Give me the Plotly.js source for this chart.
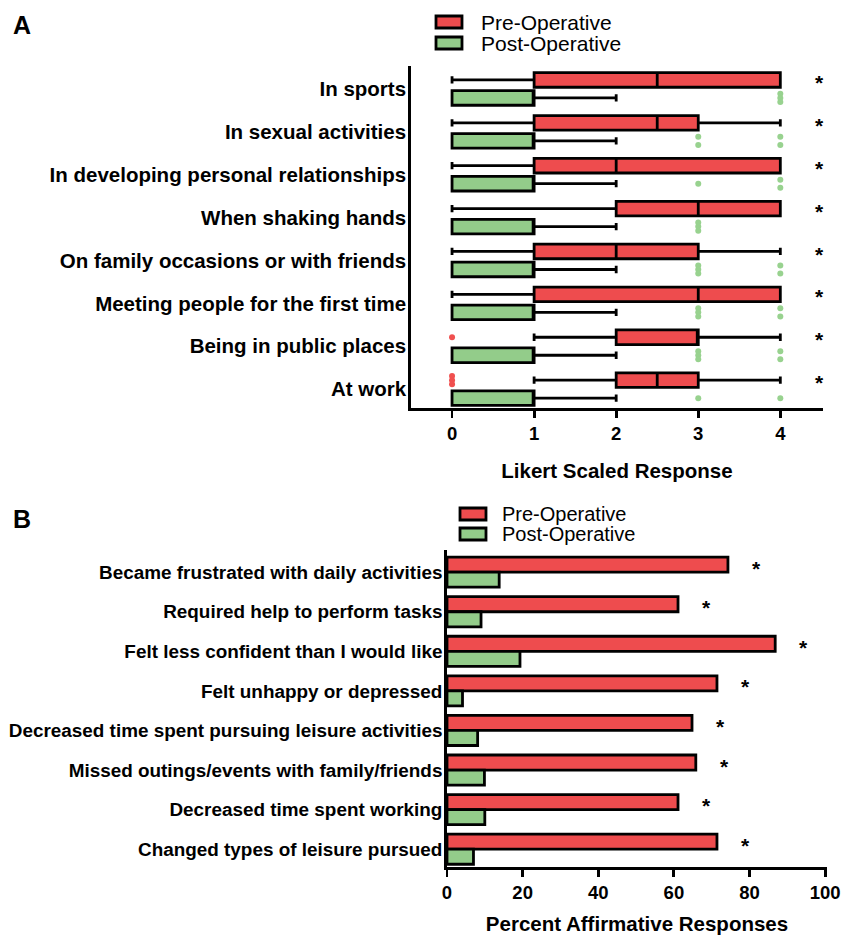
<!DOCTYPE html>
<html>
<head>
<meta charset="utf-8">
<script src="https://cdn.plot.ly/plotly-3.0.1.min.js"></script>
<style>html,body{margin:0;padding:0;background:#fff;}#chart{width:843px;height:936px;}</style>
</head>
<body>
<div id="chart"></div>
<script>
// ---------- Panel A data (Likert 0-4) ----------
const catsA = ["In sports","In sexual activities","In developing personal relationships","When shaking hands","On family occasions or with friends","Meeting people for the first time","Being in public places","At work"];
const preLo  = [0, 0, 0, 0, 0, 0, 1, 1];
const preQ1  = [1, 1, 1, 2, 1, 1, 2, 2];
const preMed = [2.5, 2.5, 2, 3, 2, 3, 3, 2.5];
const preQ3  = [4, 3, 4, 4, 3, 4, 3, 3];
const preHi  = [4, 4, 4, 4, 4, 4, 4, 4];
const preOut = [[], [], [], [], [], [], [0], [0, 0, 0]];
const postLo  = [0, 0, 0, 0, 0, 0, 0, 0];
const postQ1  = [0, 0, 0, 0, 0, 0, 0, 0];
const postMed = [1, 1, 1, 1, 1, 1, 1, 1];
const postQ3  = [1, 1, 1, 1, 1, 1, 1, 1];
const postHi  = [2, 2, 2, 2, 2, 2, 2, 2];
const postOut = [[4, 4, 4], [3, 3, 4, 4], [3, 4, 4], [3, 3, 3], [3, 3, 3, 4, 4], [3, 3, 3, 4, 4], [3, 3, 3, 4, 4], [3, 4]];
const sigA = [true, true, true, true, true, true, true, true];
const ticksA = [0, 1, 2, 3, 4];

// ---------- Panel B data (percent) ----------
const catsB = ["Became frustrated with daily activities","Required help to perform tasks","Felt less confident than I would like","Felt unhappy or depressed","Decreased time spent pursuing leisure activities","Missed outings/events with family/friends","Decreased time spent working","Changed types of leisure pursued"];
const prePct  = [74.3, 61.1, 86.8, 71.4, 64.8, 65.8, 61.1, 71.4];
const postPct = [13.8, 9.0, 19.3, 4.1, 8.1, 9.9, 10.0, 7.0];
const sigB = [true, true, true, true, true, true, true, true];
const ticksB = [0, 20, 40, 60, 80, 100];

// ---------- styles ----------
const RED = '#ee4c4e', GREEN = '#93cc8a', GREEN_DOT = '#98d28f', RED_DOT = '#f0504f';
const FONT = 'Liberation Sans, Arial, Helvetica, sans-serif';
const LW = 2.8;
const OFF = 0.21;      // group offset in category units (panel A)
const STACK = 0.095;   // vertical spread for repeated outliers (panel A)

const idxA = catsA.map((_, i) => i);
function boxTrace(lo, q1, med, q3, hi, sign, color, name) {
  return {
    type: 'box', orientation: 'h', name: name,
    y: idxA.map(i => i + sign * OFF),
    lowerfence: lo, q1: q1, median: med, q3: q3, upperfence: hi,
    width: 0.34, whiskerwidth: 0.5, boxpoints: false,
    fillcolor: color, line: {color: '#000', width: LW},
    xaxis: 'x', yaxis: 'y', showlegend: false, hoverinfo: 'x'
  };
}
function outlierTrace(outs, sign, color) {
  const xs = [], ys = [];
  outs.forEach((arr, i) => {
    const counts = {};
    arr.forEach(v => counts[v] = (counts[v] || 0) + 1);
    Object.keys(counts).forEach(k => {
      const n = counts[k];
      for (let j = 0; j < n; j++) {
        const o = n > 1 ? -STACK + (2 * STACK) * j / (n - 1) : 0;
        xs.push(+k); ys.push(i + sign * OFF + o);
      }
    });
  });
  return {type: 'scatter', mode: 'markers', x: xs, y: ys, xaxis: 'x', yaxis: 'y',
    marker: {color: color, size: 6}, showlegend: false, hoverinfo: 'x'};
}

const traces = [
  boxTrace(preLo, preQ1, preMed, preQ3, preHi, -1, RED, 'Pre-Operative'),
  boxTrace(postLo, postQ1, postMed, postQ3, postHi, 1, GREEN, 'Post-Operative'),
  outlierTrace(preOut, -1, RED_DOT),
  outlierTrace(postOut, 1, GREEN_DOT),
  {type: 'bar', orientation: 'h', name: 'Pre-Operative', y: catsB, x: prePct,
   marker: {color: RED, line: {color: '#000', width: LW}}, xaxis: 'x2', yaxis: 'y2', showlegend: false},
  {type: 'bar', orientation: 'h', name: 'Post-Operative', y: catsB, x: postPct,
   marker: {color: GREEN, line: {color: '#000', width: LW}}, xaxis: 'x2', yaxis: 'y2', showlegend: false}
];

// page geometry helpers (margins 0 so paper == page)
const W = 843, H = 936;
const px = v => v / W, py = v => 1 - v / H;

const annotations = [];
// significance asterisks A
sigA.forEach((s, i) => { if (s) annotations.push({x: 4.48, y: i - OFF + 0.06, xref: 'x', yref: 'y', text: '*', showarrow: false,
  font: {family: FONT, size: 21, color: '#000', weight: 'bold'}}); });
// significance asterisks B
sigB.forEach((s, i) => { if (s) annotations.push({x: prePct[i] + 7.5, y: catsB[i], xref: 'x2', yref: 'y2', yshift: 4, text: '*', showarrow: false,
  font: {family: FONT, size: 21, color: '#000', weight: 'bold'}}); });

// panel letters
annotations.push({x: px(11), y: py(25), xref: 'paper', yref: 'paper', xanchor: 'left', yanchor: 'middle', text: '<b>A</b>', showarrow: false, font: {family: FONT, size: 25, color: '#000'}});
annotations.push({x: px(11), y: py(519), xref: 'paper', yref: 'paper', xanchor: 'left', yanchor: 'middle', text: '<b>B</b>', showarrow: false, font: {family: FONT, size: 25, color: '#000'}});

// manual legends
const shapes = [];
function legend(x0, yRed, yGreen, textX, size) {
  [[yRed, RED, 'Pre-Operative'], [yGreen, GREEN, 'Post-Operative']].forEach(([yc, col, label]) => {
    shapes.push({type: 'rect', xref: 'paper', yref: 'paper', x0: px(x0), x1: px(x0 + 26), y0: py(yc - 6), y1: py(yc + 6),
      fillcolor: col, line: {color: '#000', width: LW}});
    annotations.push({x: px(textX), y: py(yc), xref: 'paper', yref: 'paper', xanchor: 'left', yanchor: 'middle',
      text: label, showarrow: false, borderpad: 0, font: {family: FONT, size: size, color: '#000'}});
  });
}
legend(436, 22, 43, 480, 21);
legend(460, 514, 534, 501, 20);

const axisCommon = {showline: true, linecolor: '#000', linewidth: LW, showgrid: false, zeroline: false, mirror: false};

const layout = {
  width: W, height: H, margin: {l: 0, r: 0, t: 0, b: 0},
  paper_bgcolor: '#fff', plot_bgcolor: '#fff',
  font: {family: FONT, color: '#000'},
  boxmode: 'overlay', barmode: 'group', bargap: 0.24, bargroupgap: 0,
  showlegend: false,
  xaxis: Object.assign({}, axisCommon, {
    domain: [px(411), px(823)], anchor: 'y', range: [-0.5, 4.52], tickvals: ticksA,
    ticks: 'outside', ticklen: 7, tickwidth: LW, tickcolor: '#000',
    tickfont: {family: FONT, size: 18.5, weight: 'bold'},
    title: {text: 'Likert Scaled Response', font: {family: FONT, size: 20.5, weight: 'bold'}, standoff: 21}
  }),
  yaxis: Object.assign({}, axisCommon, {
    domain: [py(408), py(66)], anchor: 'x', range: [7.44, -0.535],
    tickvals: idxA, ticktext: catsA, ticks: '', ticklabelstandoff: -2,
    tickfont: {family: FONT, size: 20.5, weight: 'bold'}
  }),
  xaxis2: Object.assign({}, axisCommon, {
    domain: [px(447), px(827)], anchor: 'y2', range: [0, 100.5], tickvals: ticksB,
    ticks: 'outside', ticklen: 7, tickwidth: LW, tickcolor: '#000',
    tickfont: {family: FONT, size: 18.5, weight: 'bold'},
    title: {text: 'Percent Affirmative Responses', font: {family: FONT, size: 20.5, weight: 'bold'}, standoff: 15}
  }),
  yaxis2: Object.assign({}, axisCommon, {
    domain: [py(867), py(550)], anchor: 'x2', type: 'category', range: [7.45, -0.56],
    ticks: '', ticklabelstandoff: -2,
    tickfont: {family: FONT, size: 18.9, weight: 'bold'}
  }),
  annotations: annotations,
  shapes: shapes
};

Plotly.newPlot('chart', traces, layout, {staticPlot: true, displayModeBar: false});
</script>
</body>
</html>
